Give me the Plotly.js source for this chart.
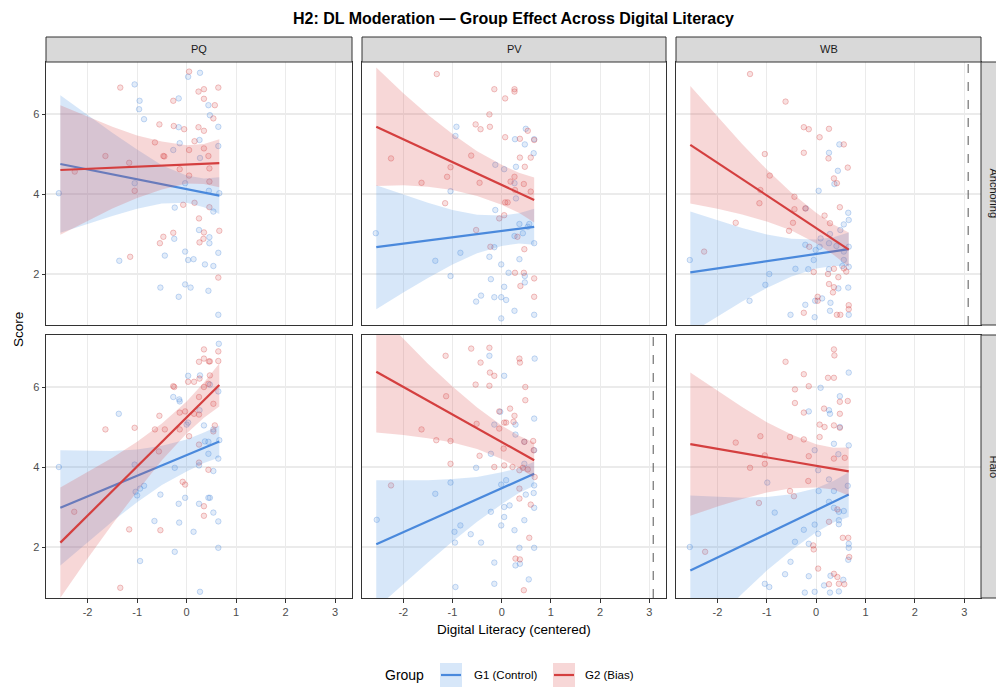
<!DOCTYPE html>
<html><head><meta charset="utf-8">
<script src="https://cdn.plot.ly/plotly-3.0.1.min.js"></script>
<style>html,body{margin:0;padding:0;background:#fff}#chart{width:996px;height:688px}</style>
</head><body><div id="chart"></div>
<script>
// ---------------- DATA ----------------
const colFacets = ['PQ', 'PV', 'WB'];
const rowFacets = ['Anchoring', 'Halo'];
const groupNames = ['G1 (Control)', 'G2 (Bias)'];
const xTickVals = [-2, -1, 0, 1, 2, 3];
const xTickText = ['-2', '-1', '0', '1', '2', '3'];
const yTickVals = [2, 4, 6];
const yTickText = ['2', '4', '6'];
const fitX = [-2.55, 0.66];
const bandX = [-2.55, -2, -1.5, -1, -0.5, 0, 0.35, 0.66];
const dashedLineX = [3.08];           // vertical reference value
const dashedLinePanels = ['PV|Halo', 'WB|Anchoring'];

// PQ / Anchoring
const PQ_Anchoring_G1_pts = [[-2.58,4.02],[-1.05,6.74],[-0.95,6.33],[-0.96,6.12],[-0.86,5.87],[-1.36,2.33],[-0.16,6.39],[-0.16,5.67],[-0.24,3.66],[-0.25,2.88],[-0.44,2.46],[-0.53,1.66],[-0.16,1.43],[-0.03,2.56],[-0.03,1.74],[0.03,2.35],[0.14,2.37],[0.08,1.66],[0.27,7.03],[0.03,6.93],[0.25,3.10],[0.37,2.24],[0.44,1.58],[0.46,2.92],[0.46,2.77],[0.54,2.20],[0.64,2.53],[0.64,0.98],[0.44,6.22],[0.47,5.97],[0.64,5.68],[0.64,5.20],[0.26,5.35],[0.27,4.90],[0.66,4.02],[0.54,3.56],[-0.03,4.27],[-0.14,5.27],[-0.27,5.10],[-1.05,4.27],[0.45,4.08]];
const PQ_Anchoring_G2_pts = [[-1.34,6.66],[-1.14,2.43],[-1.64,4.95],[-1.16,4.78],[-2.26,4.56],[-1.05,4.08],[-0.64,5.29],[-0.55,5.74],[-0.45,4.94],[-0.27,6.33],[-0.26,5.70],[-0.05,5.62],[0.05,5.10],[-0.14,4.62],[0.05,4.46],[-0.07,3.73],[0.16,3.78],[0.16,5.32],[0.24,5.67],[0.35,5.58],[0.35,5.14],[0.24,6.56],[0.35,6.62],[0.35,6.38],[0.57,6.22],[0.54,5.89],[0.64,6.66],[0.44,4.95],[0.46,4.64],[0.46,4.31],[0.46,3.67],[0.25,3.39],[0.35,3.04],[0.34,2.88],[0.26,2.79],[-0.27,3.03],[-0.47,2.93],[-0.54,2.77],[0.64,1.91],[0.66,3.08],[0.05,7.06],[-0.47,4.95]];
const PQ_Anchoring_G1_fit = [4.75, 3.96];
const PQ_Anchoring_G1_hi = [6.47,5.97,5.53,5.11,4.72,4.46,4.39,4.42];
const PQ_Anchoring_G1_lo = [3.03,3.25,3.45,3.63,3.76,3.78,3.67,3.50];
const PQ_Anchoring_G2_fit = [4.60, 4.77];
const PQ_Anchoring_G2_hi = [6.22,5.93,5.68,5.46,5.31,5.22,5.25,5.37];
const PQ_Anchoring_G2_lo = [2.98,3.33,3.64,3.90,4.11,4.26,4.25,4.17];

// PV / Anchoring
const PV_Anchoring_G1_pts = [[-2.56,3.02],[-0.92,5.68],[-0.94,5.45],[-1.35,2.33],[-1.04,1.95],[-0.84,2.53],[-1.04,4.07],[-0.13,4.73],[0.05,4.62],[0.29,4.68],[0.27,5.37],[0.47,5.24],[0.49,5.63],[0.66,5.37],[0.65,5.02],[0.26,4.27],[0.29,3.89],[-0.13,3.60],[0.36,3.25],[0.56,3.25],[0.26,2.95],[0.43,3.02],[0.66,2.77],[-0.25,2.43],[-0.15,2.67],[0.36,2.37],[-0.01,2.24],[0.14,2.03],[-0.22,1.87],[0.47,1.95],[0.47,1.79],[0.05,1.68],[-0.42,1.46],[-0.15,1.42],[-0.01,1.42],[0.09,1.35],[-0.52,1.31],[0.26,1.08],[-0.01,0.89],[0.66,0.98],[0.53,3.18]];
const PV_Anchoring_G2_pts = [[-1.32,7.00],[-2.25,4.89],[-1.63,4.28],[-1.04,4.67],[-1.11,4.43],[-1.15,3.77],[-0.62,4.96],[-0.52,3.10],[-0.53,5.74],[-0.43,5.62],[-0.25,5.99],[-0.24,5.68],[-0.15,6.62],[0.07,6.39],[0.26,6.62],[0.26,6.56],[0.07,5.42],[0.37,5.38],[0.53,5.58],[0.66,5.35],[0.37,4.91],[0.59,4.91],[0.47,4.68],[0.26,4.43],[0.18,4.31],[0.45,4.25],[0.27,4.10],[-0.45,4.28],[0.07,3.79],[0.12,3.79],[-0.05,3.39],[0.05,3.47],[-0.23,2.68],[0.32,2.93],[0.46,2.62],[0.45,2.03],[0.27,2.03],[0.38,1.70],[0.66,1.89],[0.66,1.43],[0.59,4.06]];
const PV_Anchoring_G1_fit = [2.67, 3.18];
const PV_Anchoring_G1_hi = [4.22,3.98,3.78,3.60,3.48,3.46,3.52,3.63];
const PV_Anchoring_G1_lo = [1.12,1.54,1.90,2.24,2.52,2.70,2.76,2.73];
const PV_Anchoring_G2_fit = [5.68, 3.85];
const PV_Anchoring_G2_hi = [7.16,6.52,5.98,5.50,5.07,4.73,4.53,4.41];
const PV_Anchoring_G2_lo = [4.20,4.22,4.18,4.10,3.95,3.73,3.53,3.29];

// WB / Anchoring
const WB_Anchoring_G1_pts = [[-2.56,2.35],[-1.35,1.33],[-1.03,1.73],[-0.95,2.00],[-0.42,2.13],[-0.21,3.64],[-0.22,2.73],[-0.16,2.12],[0.05,4.08],[0.26,5.03],[0.47,5.24],[0.44,4.58],[0.37,4.25],[0.65,3.53],[0.66,3.35],[0.56,3.24],[0.49,3.10],[0.28,3.00],[0.26,2.77],[0.09,2.89],[-0.01,2.60],[0.41,2.70],[0.56,2.56],[0.66,2.68],[0.56,2.35],[0.66,2.18],[0.26,2.12],[0.53,2.20],[0.65,1.66],[0.45,1.64],[0.12,1.39],[-0.02,1.33],[-0.22,1.23],[0.29,1.28],[-0.52,0.98],[-0.03,0.92],[0.28,1.08],[0.66,0.98],[0.07,2.68],[-0.05,2.35]];
const WB_Anchoring_G2_pts = [[-1.34,7.00],[-0.62,6.31],[-0.25,5.67],[-0.15,5.62],[0.26,5.63],[0.07,5.42],[0.56,5.24],[-0.25,5.03],[0.25,4.89],[0.64,4.66],[-1.04,5.00],[0.36,4.39],[0.42,4.27],[-0.94,4.46],[-1.13,4.10],[-1.15,3.77],[-0.44,3.93],[-0.44,3.62],[-0.22,3.64],[0.17,3.46],[0.48,3.67],[-1.63,3.28],[-2.27,2.56],[-0.55,3.08],[-0.47,3.28],[0.28,3.27],[-0.05,2.05],[0.24,2.00],[0.36,2.13],[0.56,2.14],[0.61,2.06],[0.45,1.92],[0.26,1.75],[0.36,1.67],[0.34,1.54],[0.03,1.43],[0.03,1.33],[-0.25,1.03],[0.42,0.98],[0.49,0.98],[0.66,1.12],[0.66,1.22],[-0.14,2.68]];
const WB_Anchoring_G1_fit = [2.04, 2.62];
const WB_Anchoring_G1_hi = [3.56,3.34,3.15,2.99,2.88,2.86,2.92,3.04];
const WB_Anchoring_G1_lo = [0.52,0.94,1.31,1.65,1.94,2.14,2.20,2.20];
const WB_Anchoring_G2_fit = [5.23, 2.61];
const WB_Anchoring_G2_hi = [6.70,5.93,5.25,4.61,4.03,3.53,3.24,3.04];
const WB_Anchoring_G2_lo = [3.76,3.63,3.49,3.31,3.09,2.77,2.48,2.18];

// PQ / Halo
const PQ_Halo_G1_pts = [[-2.58,4.00],[-1.37,5.33],[-1.05,4.06],[-1.03,3.38],[-1.00,3.29],[-0.94,3.46],[-0.86,3.53],[-0.94,1.65],[-0.65,2.65],[-0.53,3.31],[-0.27,5.75],[-0.15,5.69],[-0.14,5.64],[-0.24,3.98],[-0.24,1.88],[-0.15,2.61],[-0.16,3.08],[-0.03,3.23],[0.03,6.28],[0.00,5.06],[0.03,5.11],[0.14,2.38],[0.25,3.08],[0.25,4.04],[0.27,0.88],[0.27,6.29],[0.26,5.42],[0.35,5.04],[0.37,4.64],[0.44,4.63],[0.44,4.33],[0.44,3.23],[0.47,3.23],[0.54,3.90],[0.54,2.86],[0.64,2.64],[0.64,1.98],[0.64,4.21],[0.66,4.67],[0.54,4.94],[0.47,6.06],[0.64,5.89],[0.65,7.08]];
const PQ_Halo_G2_pts = [[-2.27,2.88],[-1.64,4.94],[-1.05,4.98],[-1.16,2.44],[-1.34,0.98],[-0.55,5.28],[-0.64,4.94],[-0.44,4.94],[-0.53,2.42],[-0.56,4.39],[-0.27,6.02],[-0.25,6.00],[-0.14,5.36],[-0.14,4.94],[-0.08,3.63],[-0.03,3.56],[0.05,4.77],[0.03,6.13],[0.15,6.13],[0.25,6.63],[0.35,6.94],[0.35,6.71],[0.45,6.64],[0.47,6.64],[0.64,6.89],[0.64,6.65],[0.26,6.21],[0.35,6.00],[0.44,6.08],[0.47,6.29],[0.25,5.75],[0.25,5.31],[0.54,5.58],[0.57,5.04],[0.54,4.89],[0.25,4.56],[0.25,4.11],[0.44,3.93],[0.35,3.02],[0.35,2.78],[0.15,5.33],[-0.03,5.39]];
const PQ_Halo_G1_fit = [2.98, 4.64];
const PQ_Halo_G1_hi = [4.42,4.40,4.40,4.44,4.53,4.69,4.86,5.04];
const PQ_Halo_G1_lo = [1.54,2.12,2.64,3.12,3.55,3.89,4.10,4.24];
const PQ_Halo_G2_fit = [2.11, 6.05];
const PQ_Halo_G2_hi = [3.49,3.87,4.23,4.63,5.09,5.64,6.11,6.59];
const PQ_Halo_G2_lo = [0.73,1.71,2.57,3.39,4.17,4.84,5.23,5.51];

// PV / Halo
const PV_Halo_G1_pts = [[-0.25,6.78],[0.05,6.28],[0.67,6.71],[-0.03,5.38],[-0.15,5.06],[0.28,5.06],[0.28,4.81],[0.46,4.63],[0.66,5.21],[0.66,4.42],[-0.22,4.33],[-0.52,3.98],[-1.04,3.61],[-1.35,3.33],[-2.54,2.68],[-0.84,2.54],[-0.96,2.38],[-0.95,2.11],[-0.63,2.32],[-0.42,2.11],[-0.22,2.88],[-0.01,2.54],[0.05,2.75],[0.05,3.00],[0.16,3.04],[0.26,2.42],[0.46,2.67],[0.36,1.98],[0.66,1.98],[-0.15,1.61],[0.28,1.54],[0.37,1.58],[-0.15,1.08],[-0.94,1.00],[0.55,1.19],[-0.01,3.56],[0.09,3.67],[0.49,3.31],[0.65,3.35],[0.66,3.54],[0.66,2.98],[0.46,4.08]];
const PV_Halo_G2_pts = [[-1.14,6.78],[-0.62,6.96],[-0.25,6.98],[-0.43,6.61],[-0.24,6.36],[-0.15,6.28],[-0.53,6.06],[-0.25,6.03],[0.36,6.71],[0.37,6.61],[0.48,6.00],[-1.13,5.77],[0.48,5.67],[-0.05,5.39],[0.17,5.46],[0.26,5.28],[0.24,5.13],[0.05,5.11],[0.09,5.11],[-0.51,5.08],[-0.05,4.96],[-1.63,4.94],[-1.33,4.67],[-1.04,4.65],[0.46,4.63],[0.64,4.65],[0.04,4.46],[-0.45,4.28],[0.65,4.42],[-1.04,4.08],[-0.15,4.00],[0.05,4.04],[0.22,4.00],[0.36,3.92],[0.43,3.98],[0.53,3.94],[0.67,3.75],[-2.25,3.54],[0.36,3.46],[0.36,3.21],[0.56,2.23],[0.28,1.71],[0.37,1.69],[0.45,0.92],[0.59,3.06]];
const PV_Halo_G1_fit = [2.07, 3.83];
const PV_Halo_G1_hi = [3.67,3.67,3.67,3.70,3.75,3.87,3.97,4.13];
const PV_Halo_G1_lo = [0.47,1.07,1.61,2.14,2.63,3.07,3.35,3.53];
const PV_Halo_G2_fit = [6.38, 4.17];
const PV_Halo_G2_hi = [7.90,7.20,6.58,6.01,5.49,5.04,4.78,4.61];
const PV_Halo_G2_lo = [4.86,4.80,4.72,4.61,4.45,4.20,3.98,3.73];

// WB / Halo
const WB_Halo_G1_pts = [[-2.56,2.00],[-0.99,3.61],[-0.84,2.86],[-1.04,1.08],[-0.95,1.00],[-0.63,1.32],[-0.52,1.63],[-0.43,2.13],[-0.25,2.43],[-0.15,2.08],[-0.15,1.27],[-0.23,0.86],[-0.03,0.88],[-0.03,2.56],[0.04,2.33],[-0.03,4.42],[0.04,3.92],[0.09,5.98],[-0.15,5.39],[0.26,5.42],[0.28,5.33],[0.48,5.77],[0.48,5.00],[0.36,4.58],[0.45,4.32],[0.66,4.54],[0.66,6.36],[0.26,3.69],[0.05,3.40],[0.36,3.40],[0.64,3.53],[0.26,3.13],[0.36,2.98],[0.46,2.88],[0.56,2.90],[0.46,2.67],[0.46,2.57],[0.66,2.08],[0.66,1.98],[0.65,1.68],[0.29,1.28],[0.16,1.04],[0.28,0.86],[0.46,0.89],[0.55,1.18]];
const WB_Halo_G2_pts = [[-0.62,6.63],[0.36,6.94],[0.37,6.79],[-0.25,6.32],[-0.15,6.02],[-0.43,5.94],[0.24,6.23],[0.36,6.23],[-0.43,5.60],[-0.25,5.36],[0.16,5.46],[0.48,5.63],[0.64,5.65],[0.48,5.33],[0.07,5.06],[0.17,5.00],[0.36,5.04],[0.48,4.98],[-1.63,4.61],[-1.13,4.77],[-0.53,4.75],[-0.25,4.69],[0.07,4.75],[-1.04,4.29],[-0.15,4.27],[0.36,4.21],[0.58,4.23],[-1.34,3.98],[-1.04,4.08],[-0.16,3.65],[-0.53,3.40],[-0.45,3.27],[-1.16,3.10],[0.26,2.63],[0.43,2.94],[0.54,2.23],[0.65,2.23],[-0.06,2.04],[-0.05,1.94],[-2.25,1.88],[0.04,1.46],[0.36,1.33],[0.43,1.25],[0.26,1.07],[0.46,1.08],[0.57,1.07],[0.67,1.75]];
const WB_Halo_G1_fit = [1.41, 3.31];
const WB_Halo_G1_hi = [3.29,3.25,3.23,3.25,3.32,3.47,3.65,3.87];
const WB_Halo_G1_lo = [-0.47,0.21,0.83,1.41,1.92,2.37,2.61,2.75];
const WB_Halo_G2_fit = [4.57, 3.89];
const WB_Halo_G2_hi = [6.36,5.91,5.50,5.12,4.81,4.57,4.48,4.49];
const WB_Halo_G2_lo = [2.78,3.01,3.20,3.36,3.47,3.49,3.44,3.29];

// ---------------- STYLE / LAYOUT ----------------
const W = 996, H = 688;
const PX = v => v / W, PY = v => 1 - v / H;
const colL = [46, 362, 676], colR = [352, 666, 981];
const rowT = [62, 335], rowB = [325, 598];
const FONT = 'Liberation Sans, Arial, Helvetica, sans-serif';
const lineCol = ['#4A89DC', '#D43F3F'];
const ptFill = ['rgba(74,137,220,0.16)', 'rgba(212,63,63,0.16)'];
const ptEdge = ['rgba(74,137,220,0.30)', 'rgba(212,63,63,0.30)'];
const bandFill = ['rgba(74,144,226,0.22)', 'rgba(220,72,72,0.22)'];

const panelData = {
  'PQ|Anchoring': [PQ_Anchoring_G1_pts, PQ_Anchoring_G2_pts, PQ_Anchoring_G1_fit, PQ_Anchoring_G2_fit, PQ_Anchoring_G1_lo, PQ_Anchoring_G1_hi, PQ_Anchoring_G2_lo, PQ_Anchoring_G2_hi],
  'PV|Anchoring': [PV_Anchoring_G1_pts, PV_Anchoring_G2_pts, PV_Anchoring_G1_fit, PV_Anchoring_G2_fit, PV_Anchoring_G1_lo, PV_Anchoring_G1_hi, PV_Anchoring_G2_lo, PV_Anchoring_G2_hi],
  'WB|Anchoring': [WB_Anchoring_G1_pts, WB_Anchoring_G2_pts, WB_Anchoring_G1_fit, WB_Anchoring_G2_fit, WB_Anchoring_G1_lo, WB_Anchoring_G1_hi, WB_Anchoring_G2_lo, WB_Anchoring_G2_hi],
  'PQ|Halo': [PQ_Halo_G1_pts, PQ_Halo_G2_pts, PQ_Halo_G1_fit, PQ_Halo_G2_fit, PQ_Halo_G1_lo, PQ_Halo_G1_hi, PQ_Halo_G2_lo, PQ_Halo_G2_hi],
  'PV|Halo': [PV_Halo_G1_pts, PV_Halo_G2_pts, PV_Halo_G1_fit, PV_Halo_G2_fit, PV_Halo_G1_lo, PV_Halo_G1_hi, PV_Halo_G2_lo, PV_Halo_G2_hi],
  'WB|Halo': [WB_Halo_G1_pts, WB_Halo_G2_pts, WB_Halo_G1_fit, WB_Halo_G2_fit, WB_Halo_G1_lo, WB_Halo_G1_hi, WB_Halo_G2_lo, WB_Halo_G2_hi]
};

const traces = [];
const layout = {
  width: W, height: H, margin: {l: 0, r: 0, t: 0, b: 0},
  paper_bgcolor: '#FFFFFF', plot_bgcolor: '#FFFFFF',
  font: {family: FONT, color: '#000000'},
  showlegend: false, shapes: [], annotations: []
};

rowFacets.forEach((rf, r) => {
  colFacets.forEach((cf, c) => {
    const k = r * 3 + c + 1;
    const xs = k === 1 ? 'x' : 'x' + k, ys = k === 1 ? 'y' : 'y' + k;
    const d = panelData[cf + '|' + rf];
    const [p1, p2, f1, f2, lo1, hi1, lo2, hi2] = d;
    [p1, p2].forEach((pts, g) => {
      traces.push({type: 'scatter', mode: 'markers', xaxis: xs, yaxis: ys,
        x: pts.map(p => p[0]), y: pts.map(p => p[1]), hoverinfo: 'skip',
        marker: {size: 5.5, color: ptFill[g], line: {color: ptEdge[g], width: 1}}});
    });
    [[f1, lo1, hi1], [f2, lo2, hi2]].forEach(([f, lo, hi], g) => {
      traces.push({type: 'scatter', mode: 'lines', xaxis: xs, yaxis: ys,
        x: bandX.concat(bandX.slice().reverse()), y: hi.concat(lo.slice().reverse()),
        fill: 'toself', fillcolor: bandFill[g], line: {width: 0, color: 'rgba(0,0,0,0)'}, hoverinfo: 'skip'});
      traces.push({type: 'scatter', mode: 'lines', xaxis: xs, yaxis: ys,
        x: fitX, y: f, line: {color: lineCol[g], width: 2.2}, hoverinfo: 'skip'});
    });
    const axBase = {showgrid: true, gridcolor: '#EBEBEB', gridwidth: 1.1, zeroline: false,
      showline: true, mirror: true, linecolor: '#333333', linewidth: 1,
      ticklen: 3.5, tickwidth: 1, tickcolor: '#333333',
      tickfont: {size: 11, color: '#4D4D4D', family: FONT}, fixedrange: true};
    layout['xaxis' + (k === 1 ? '' : k)] = Object.assign({}, axBase, {
      domain: [PX(colL[c]), PX(colR[c])], range: [-2.84, 3.34], anchor: ys,
      tickmode: 'array', tickvals: xTickVals, ticktext: xTickText,
      ticks: r === 1 ? 'outside' : '', showticklabels: r === 1});
    layout['yaxis' + (k === 1 ? '' : k)] = Object.assign({}, axBase, {
      domain: [PY(rowB[r]), PY(rowT[r])], range: [0.725, 7.3], anchor: xs,
      tickmode: 'array', tickvals: yTickVals, ticktext: yTickText,
      ticks: c === 0 ? 'outside' : '', showticklabels: c === 0});
    if (dashedLinePanels.includes(cf + '|' + rf)) {
      layout.shapes.push({type: 'line', xref: xs, yref: ys + ' domain', x0: dashedLineX[0], x1: dashedLineX[0], y0: 0, y1: 1,
        line: {color: '#555555', width: 1, dash: 'dash'}});
    }
  });
});

// strips
colFacets.forEach((cf, c) => {
  layout.shapes.push({type: 'rect', xref: 'paper', yref: 'paper', x0: PX(colL[c]), x1: PX(colR[c]), y0: PY(62), y1: PY(37),
    fillcolor: '#D9D9D9', line: {color: '#333333', width: 1}});
  layout.annotations.push({xref: 'paper', yref: 'paper', x: PX((colL[c] + colR[c]) / 2), y: PY(49.5), text: cf, showarrow: false,
    xanchor: 'center', yanchor: 'middle', font: {size: 11, color: '#1A1A1A', family: FONT}});
});
rowFacets.forEach((rf, r) => {
  layout.shapes.push({type: 'rect', xref: 'paper', yref: 'paper', x0: PX(981), x1: PX(1012), y0: PY(rowB[r]), y1: PY(rowT[r]),
    fillcolor: '#D9D9D9', line: {color: '#333333', width: 1}});
  layout.annotations.push({xref: 'paper', yref: 'paper', x: PX(994), y: PY((rowT[r] + rowB[r]) / 2), text: rf, showarrow: false,
    textangle: 90, xanchor: 'center', yanchor: 'middle', font: {size: 11, color: '#1A1A1A', family: FONT}});
});

// titles
layout.annotations.push({xref: 'paper', yref: 'paper', x: PX(513.5), y: PY(18), showarrow: false, xanchor: 'center', yanchor: 'middle',
  text: '<b>H2: DL Moderation — Group Effect Across Digital Literacy</b>', font: {size: 16, color: '#000000', family: FONT}});
layout.annotations.push({xref: 'paper', yref: 'paper', x: PX(513.5), y: PY(629), showarrow: false, xanchor: 'center', yanchor: 'middle',
  text: 'Digital Literacy (centered)', font: {size: 13.5, color: '#000000', family: FONT}});
layout.annotations.push({xref: 'paper', yref: 'paper', x: PX(18), y: PY(330), showarrow: false, xanchor: 'center', yanchor: 'middle',
  textangle: -90, text: 'Score', font: {size: 13.5, color: '#000000', family: FONT}});

// legend (drawn manually)
layout.annotations.push({xref: 'paper', yref: 'paper', x: PX(383), y: PY(675), showarrow: false, xanchor: 'left', yanchor: 'middle',
  text: 'Group', font: {size: 14, color: '#000000', family: FONT}});
const keyX = [440, 553], labX = [472, 583];
groupNames.forEach((gn, g) => {
  layout.shapes.push({type: 'rect', xref: 'paper', yref: 'paper', x0: PX(keyX[g]), x1: PX(keyX[g] + 22), y0: PY(687), y1: PY(663),
    fillcolor: bandFill[g], line: {width: 0}});
  layout.shapes.push({type: 'line', xref: 'paper', yref: 'paper', x0: PX(keyX[g] + 1), x1: PX(keyX[g] + 21), y0: PY(675), y1: PY(675),
    line: {color: lineCol[g], width: 2.2}});
  layout.annotations.push({xref: 'paper', yref: 'paper', x: PX(labX[g]), y: PY(675), showarrow: false, xanchor: 'left', yanchor: 'middle',
    text: gn, font: {size: 11.5, color: '#000000', family: FONT}});
});

Plotly.newPlot('chart', traces.map(t => Object.assign({showlegend: false}, t)), layout, {staticPlot: true, displayModeBar: false});
</script></body></html>
